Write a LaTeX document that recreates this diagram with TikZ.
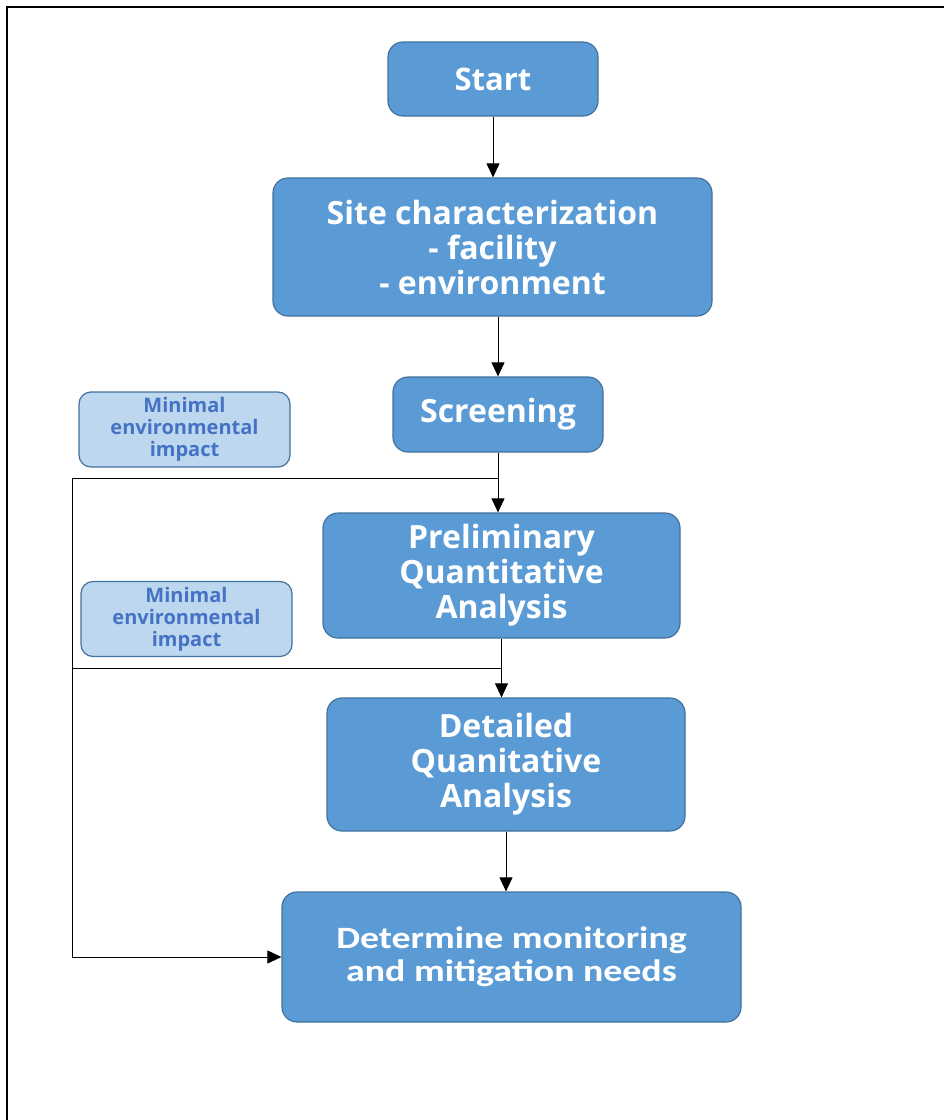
\documentclass[tikz,border=0pt]{standalone}
\usepackage{fontspec}
\setmainfont{Open Sans}
\newfontfamily\calibri[FakeStretch=1.22]{Carlito}
\usetikzlibrary{arrows.meta}
\definecolor{boxblue}{HTML}{5B9BD5}
\definecolor{boxedge}{HTML}{41719C}
\definecolor{paleblue}{HTML}{BDD7EE}
\definecolor{textblue}{HTML}{4472C4}

\begin{document}
\begin{tikzpicture}[
x=1pt,y=-1pt,
every node/.style={rectangle,rounded corners=15pt,draw=boxedge,line width=1.2pt,align=center,inner sep=0pt},
box/.style={fill=boxblue,text=white,font=\bfseries\fontsize{32}{35}\selectfont},
note/.style={fill=paleblue,text=textblue,rounded corners=12pt,minimum width=211pt,minimum height=75pt,font=\bfseries\fontsize{20}{22}\selectfont},
link/.style={line width=0.8pt,-{Triangle[width=13pt,length=14pt]}},
]
\useasboundingbox (0,0) rectangle (944,1120);
\draw[line width=2pt] (7,1120) |- (944,7);

\node[box,minimum width=210pt,minimum height=74pt,font=\bfseries\fontsize{31}{35}\selectfont] (start) at (493,79) {Start};
\node[box,minimum width=439pt,minimum height=138pt] (site) at (492.5,247) {Site characterization\\- facility\\- environment};
\node[box,minimum width=210pt,minimum height=75pt] (screen) at (498,414.5) {Screening};
\node[box,minimum width=357pt,minimum height=125pt] (prelim) at (501.5,575.5) {Preliminary\\Quantitative\\Analysis};
\node[box,minimum width=358pt,minimum height=133pt] (detail) at (506,764.5) {Detailed\\Quanitative\\Analysis};
\node[box,minimum width=459pt,minimum height=130pt,font=\calibri\bfseries\fontsize{31}{33}\selectfont] (needs) at (511.5,957) {Determine monitoring\\and mitigation needs};

\node[note] (minA) at (184.5,429.5) {Minimal\\environmental\\impact};
\node[note] (minB) at (186.5,619) {Minimal\\environmental\\impact};

\coordinate (tapA) at (screen.south |- 0,478);
\coordinate (tapB) at (prelim.south |- 0,668);
\coordinate (bend) at (72,957);

\draw[link] (start.south) -- (start.south |- site.north);
\draw[link] (screen.north |- site.south) -- (screen.north);
\draw[link] (screen.south) -- (screen.south |- prelim.north);
\draw[link] (prelim.south) -- (prelim.south |- detail.north);
\draw[link] (detail.south) -- (detail.south |- needs.north);
\draw[line width=0.8pt] (tapA) -- (tapA -| bend) -- (bend);
\draw[line width=0.8pt] (tapB) -- (tapB -| bend);
\draw[link] (bend) -- (needs.west);
\end{tikzpicture}
\end{document}
